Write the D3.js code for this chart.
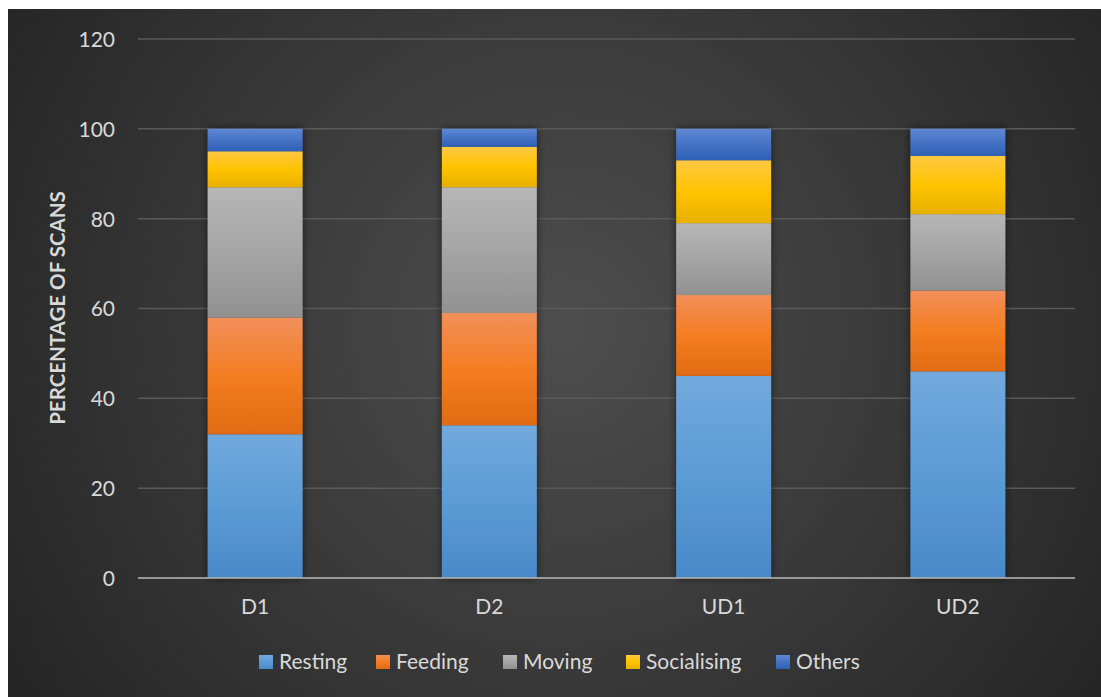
<!DOCTYPE html>
<html>
<head>
<meta charset="utf-8">
<script src="https://cdn.jsdelivr.net/npm/d3@7"></script>
<style>
html,body{margin:0;padding:0;background:#fff;}
svg{display:block;}
</style>
</head>
<body>
<svg id="chart" width="1101" height="697"></svg>
<script>
const categories = ["D1", "D2", "UD1", "UD2"];
const seriesNames = ["Resting", "Feeding", "Moving", "Socialising", "Others"];
const resting     = [32, 34, 45, 46];
const feeding     = [26, 25, 18, 18];
const moving      = [29, 28, 16, 17];
const socialising = [8, 9, 14, 13];
const others      = [5, 4, 7, 6];
const yTicks = [0, 20, 40, 60, 80, 100, 120];

(function () {
const seriesValues = [resting, feeding, moving, socialising, others];
const colorStops = [
  ["#72a9dd", "#5b9bd5", "#4a89c9"],
  ["#f28f5a", "#f47d22", "#e16b12"],
  ["#b6b6b6", "#a5a5a5", "#919191"],
  ["#ffc843", "#ffc300", "#e8b000"],
  ["#5f88d4", "#4472c4", "#2f61b8"]
];

const svg = d3.select("#chart");
const W = 1101, H = 697;
const defs = svg.append("defs");

const bg = defs.append("radialGradient").attr("id", "bg")
  .attr("gradientUnits", "userSpaceOnUse")
  .attr("cx", 560).attr("cy", 330).attr("r", 640);
bg.append("stop").attr("offset", "0").attr("stop-color", "#4e4e4e");
bg.append("stop").attr("offset", "1").attr("stop-color", "#262626");

colorStops.forEach((c, i) => {
  const g = defs.append("linearGradient").attr("id", "g" + i)
    .attr("x1", 0).attr("y1", 0).attr("x2", 0).attr("y2", 1);
  g.append("stop").attr("offset", "0").attr("stop-color", c[0]);
  g.append("stop").attr("offset", "0.5").attr("stop-color", c[1]);
  g.append("stop").attr("offset", "1").attr("stop-color", c[2]);
});

const f = defs.append("filter").attr("id", "shadow")
  .attr("x", "-20%").attr("y", "-5%").attr("width", "140%").attr("height", "110%");
f.append("feDropShadow").attr("dx", 0).attr("dy", 0).attr("stdDeviation", 4)
  .attr("flood-color", "#000").attr("flood-opacity", 0.55);

svg.append("rect").attr("x", 8).attr("y", 9).attr("width", W - 8).attr("height", H - 9)
  .attr("fill", "url(#bg)");

const pLeft = 138, pRight = 1075, pTop = 39, pBottom = 578;
const x = d3.scaleBand().domain(categories).range([pLeft, pRight]).paddingInner(0.595).paddingOuter(0.2975);
const y = d3.scaleLinear().domain([0, 120]).range([pBottom, pTop]);

const font = "Lato, 'Open Sans', sans-serif";
const textColor = "#d9d9d9";

// gridlines
svg.append("g").selectAll("line").data(yTicks.filter(d => d > 0)).join("line")
  .attr("x1", pLeft).attr("x2", pRight)
  .attr("y1", d => y(d)).attr("y2", d => y(d))
  .attr("stroke", "#5a5a5a").attr("stroke-width", 1.5);

// y tick labels
const yAxis = d3.axisLeft(y).tickValues(yTicks).tickSize(0).tickPadding(0);
const yg = svg.append("g").attr("transform", `translate(115,0)`).call(yAxis);
yg.select(".domain").remove();
yg.selectAll("text").attr("fill", textColor).attr("font-family", font).attr("font-size", 21)
  .attr("dy", "0.35em");

// stacked data
const rows = categories.map((c, i) => {
  const o = {cat: c};
  seriesNames.forEach((s, k) => o[s] = seriesValues[k][i]);
  return o;
});
const stack = d3.stack().keys(seriesNames)(rows);

const barGroups = svg.append("g").selectAll("g.bar").data(categories).join("g")
  .attr("class", "bar").attr("filter", "url(#shadow)");
barGroups.each(function(cat, ci) {
  const g = d3.select(this);
  stack.forEach((layer, k) => {
    const d = layer[ci];
    g.append("rect")
      .attr("x", x(cat)).attr("width", x.bandwidth())
      .attr("y", y(d[1])).attr("height", y(d[0]) - y(d[1]))
      .attr("fill", `url(#g${k})`);
  });
});

// x axis line
svg.append("line").attr("x1", pLeft).attr("x2", pRight).attr("y1", pBottom).attr("y2", pBottom)
  .attr("stroke", "#b0b0b0").attr("stroke-opacity", 0.8).attr("stroke-width", 2);

// x labels
const xAxis = d3.axisBottom(x).tickSize(0).tickPadding(0);
const xg = svg.append("g").attr("transform", `translate(0,607)`).call(xAxis);
xg.select(".domain").remove();
xg.selectAll("text").attr("fill", textColor).attr("font-family", font).attr("font-size", 21)
  .attr("dy", "0.35em");

// y title
svg.append("text").attr("transform", "translate(58,308) rotate(-90)")
  .attr("text-anchor", "middle").attr("dy", "0.35em")
  .attr("fill", textColor).attr("font-family", font).attr("font-weight", "bold")
  .attr("font-size", 20.5).text("PERCENTAGE OF SCANS");

// legend
const legendX = [259, 376, 503, 626, 776];
const lg = svg.append("g").selectAll("g").data(seriesNames).join("g")
  .attr("transform", (d, i) => `translate(${legendX[i]},662)`);
lg.append("rect").attr("x", 0).attr("y", -7).attr("width", 14).attr("height", 14)
  .attr("fill", (d, i) => `url(#g${i})`);
lg.append("text").attr("x", 20).attr("dy", "0.35em")
  .attr("fill", textColor).attr("font-family", font).attr("font-size", 21).text(d => d);
})();
</script>
</body>
</html>
